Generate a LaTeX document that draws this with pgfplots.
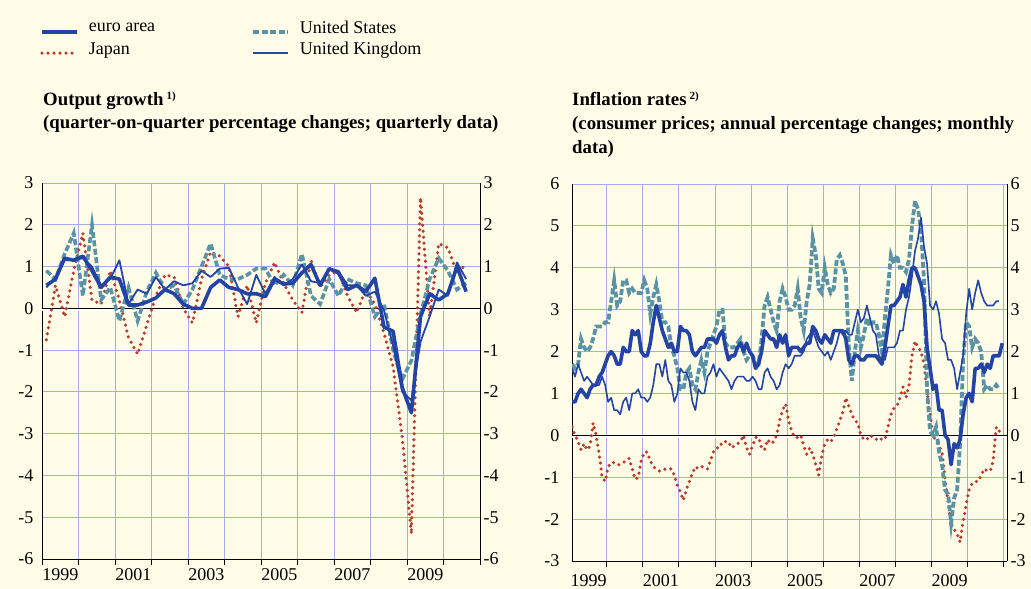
\documentclass[border=0pt]{standalone}
\usepackage{fontspec}
\setmainfont{Liberation Serif}
\usepackage{pgfplots}
\usepackage{pgfplotstable}
\pgfplotsset{compat=1.18}

\definecolor{bgc}{RGB}{255,253,232}
\definecolor{gridc}{RGB}{165,172,232}
\definecolor{ecbblue}{RGB}{36,68,165}
\definecolor{usteal}{RGB}{90,146,166}
\definecolor{jpred}{RGB}{188,58,45}

% quarterly output growth, 1999Q1 - 2010Q3
\pgfplotstableread{
ea us jp uk
0.55 0.9 -0.75 0.5
0.7 0.7 0.55 0.75
1.2 1.3 -0.2 1.15
1.15 1.8 0.9 1.15
1.25 0.3 1.8 1.2
0.9 2.0 0.2 1.0
0.5 0.2 0.1 0.55
0.75 0.5 0.9 0.7
0.7 -0.3 0.2 1.15
0.08 0.5 -0.7 0.1
0.08 -0.3 -1.1 0.45
0.15 0.4 -0.4 0.35
0.25 0.85 0.3 0.75
0.45 0.45 0.8 0.45
0.35 0.55 0.75 0.65
0.1 0.1 0.0 0.55
0.0 0.45 -0.35 0.6
0.0 1.0 0.7 0.9
0.5 1.55 1.35 0.75
0.68 0.8 1.25 0.95
0.5 0.7 1.0 0.97
0.45 0.7 -0.2 0.5
0.35 0.8 0.55 0.1
0.35 0.95 -0.35 0.8
0.28 0.95 0.6 0.35
0.7 0.55 1.1 0.75
0.58 0.8 0.6 0.55
0.6 0.55 0.2 0.7
0.85 1.3 -0.1 1.05
1.05 0.3 1.15 0.65
0.55 0.1 0.5 0.6
0.95 0.7 0.8 0.95
0.85 0.3 0.9 0.9
0.45 0.7 0.3 0.55
0.55 0.6 -0.1 0.55
0.4 0.55 0.45 0.3
0.72 -0.2 0.1 0.4
-0.45 0.1 -0.6 -0.05
-0.55 -1.0 -1.4 -0.9
-1.9 -1.7 -3.1 -2.0
-2.5 -1.25 -5.4 -2.2
-0.2 -0.15 2.65 -0.8
0.35 0.7 -0.2 -0.2
0.2 1.2 1.55 0.45
0.35 0.9 1.45 0.3
1.0 0.45 0.85 1.1
0.4 0.6 1.05 0.7
}\quarterly

% monthly inflation, from January 1999
\pgfplotstableread[row sep=\\,col sep=comma]{
y\\
0.8\\0.8\\1.0\\1.1\\1.0\\0.9\\1.1\\1.2\\1.2\\1.4\\1.5\\1.7\\
1.9\\2.0\\1.9\\1.7\\1.7\\2.1\\2.0\\2.0\\2.5\\2.4\\2.5\\2.0\\
1.9\\1.9\\2.2\\2.7\\3.1\\2.8\\2.5\\2.3\\2.1\\2.2\\2.0\\2.0\\
2.6\\2.5\\2.5\\2.4\\2.0\\1.9\\2.0\\2.1\\2.1\\2.3\\2.3\\2.3\\
2.2\\2.4\\2.5\\2.1\\1.8\\1.9\\1.9\\2.1\\2.2\\2.0\\2.2\\2.0\\
1.9\\1.6\\1.7\\2.0\\2.5\\2.4\\2.3\\2.3\\2.1\\2.4\\2.2\\2.4\\
1.9\\2.1\\2.1\\2.1\\2.0\\2.1\\2.2\\2.2\\2.6\\2.5\\2.3\\2.2\\
2.4\\2.3\\2.2\\2.5\\2.5\\2.5\\2.5\\2.3\\1.8\\1.7\\1.9\\1.9\\
1.8\\1.8\\1.9\\1.9\\1.9\\1.9\\1.8\\1.7\\2.1\\2.6\\3.1\\3.1\\
3.2\\3.3\\3.6\\3.3\\3.7\\4.0\\4.0\\3.8\\3.6\\3.2\\2.1\\1.6\\
1.1\\1.2\\0.6\\0.6\\0.0\\-0.1\\-0.7\\-0.2\\-0.3\\-0.1\\0.5\\0.9\\
1.0\\0.8\\1.6\\1.6\\1.7\\1.5\\1.7\\1.6\\1.9\\1.9\\1.9\\2.2\\
}\eainf

\pgfplotstableread[row sep=\\,col sep=comma]{
y\\
1.7\\1.6\\1.7\\2.3\\2.1\\2.0\\2.1\\2.3\\2.6\\2.6\\2.6\\2.7\\
2.7\\3.2\\3.7\\3.1\\3.2\\3.7\\3.7\\3.4\\3.5\\3.4\\3.4\\3.4\\
3.7\\3.5\\2.9\\3.3\\3.6\\3.2\\2.7\\2.7\\2.6\\2.1\\1.9\\1.6\\
1.1\\1.1\\1.5\\1.6\\1.2\\1.1\\1.5\\1.8\\1.5\\2.0\\2.2\\2.4\\
2.6\\3.0\\3.0\\2.2\\2.1\\2.1\\2.1\\2.2\\2.3\\2.0\\1.8\\1.9\\
1.9\\1.7\\1.7\\2.3\\3.1\\3.3\\3.0\\2.7\\2.5\\3.2\\3.5\\3.3\\
3.0\\3.0\\3.1\\3.5\\2.8\\2.5\\3.2\\3.6\\4.7\\4.3\\3.5\\3.4\\
4.0\\3.6\\3.4\\3.5\\4.2\\4.3\\4.1\\3.8\\2.1\\1.3\\2.0\\2.5\\
2.1\\2.4\\2.8\\2.6\\2.7\\2.7\\2.4\\2.0\\2.8\\3.5\\4.3\\4.1\\
4.3\\4.0\\4.0\\3.9\\4.2\\5.0\\5.6\\5.4\\4.9\\3.7\\1.1\\0.1\\
0.0\\0.2\\-0.4\\-0.7\\-1.3\\-1.4\\-2.1\\-1.5\\-1.3\\-0.2\\1.8\\2.7\\
2.6\\2.1\\2.3\\2.2\\2.0\\1.1\\1.2\\1.1\\1.1\\1.2\\1.1\\
}\usinf

\pgfplotstableread[row sep=\\,col sep=comma]{
y\\
0.2\\0.0\\-0.15\\-0.35\\-0.2\\-0.35\\-0.25\\0.3\\0.0\\-0.45\\-1.0\\-1.1\\
-0.75\\-0.65\\-0.65\\-0.7\\-0.7\\-0.65\\-0.6\\-0.55\\-0.8\\-1.05\\-1.0\\-0.6\\
-0.4\\-0.4\\-0.6\\-0.75\\-0.8\\-0.85\\-0.85\\-0.8\\-0.8\\-0.8\\-0.95\\-1.2\\
-1.35\\-1.55\\-1.3\\-1.1\\-0.9\\-0.75\\-0.8\\-0.75\\-0.75\\-0.8\\-0.6\\-0.4\\
-0.3\\-0.3\\-0.15\\-0.15\\-0.15\\-0.3\\-0.25\\-0.2\\-0.15\\0.0\\-0.3\\-0.45\\
-0.25\\-0.05\\-0.05\\-0.3\\-0.35\\-0.1\\-0.2\\-0.15\\0.0\\0.35\\0.6\\0.75\\
0.35\\0.1\\-0.05\\-0.05\\0.0\\-0.25\\-0.45\\-0.3\\-0.45\\-0.7\\-0.95\\-0.5\\
-0.2\\-0.1\\-0.15\\-0.05\\0.15\\0.35\\0.55\\0.9\\0.7\\0.5\\0.35\\0.3\\
0.0\\-0.1\\-0.1\\0.0\\-0.05\\-0.1\\-0.05\\-0.1\\-0.1\\0.2\\0.5\\0.65\\
0.7\\0.9\\1.15\\0.9\\1.2\\1.9\\2.25\\2.1\\2.0\\1.7\\1.05\\0.5\\
0.0\\-0.15\\-0.25\\-0.4\\-1.05\\-1.6\\-2.1\\-2.25\\-2.35\\-2.55\\-2.05\\-1.65\\
-1.3\\-1.15\\-1.1\\-1.1\\-0.95\\-0.8\\-0.85\\-0.85\\-0.6\\0.2\\0.1\\
}\jpinf

\pgfplotstableread[row sep=\\,col sep=comma]{
y\\
1.6\\1.4\\1.7\\1.5\\1.3\\1.4\\1.3\\1.2\\1.2\\1.2\\1.4\\1.2\\
0.8\\0.9\\0.6\\0.6\\0.5\\0.8\\0.9\\0.6\\1.0\\1.0\\1.1\\0.9\\
0.9\\0.8\\0.9\\1.2\\1.7\\1.7\\1.4\\1.8\\1.3\\1.2\\0.8\\1.0\\
1.6\\1.5\\1.5\\1.3\\0.8\\0.6\\1.1\\1.0\\1.0\\1.4\\1.5\\1.7\\
1.4\\1.6\\1.5\\1.4\\1.3\\1.1\\1.3\\1.4\\1.4\\1.4\\1.3\\1.3\\
1.4\\1.3\\1.1\\1.1\\1.5\\1.6\\1.4\\1.3\\1.1\\1.2\\1.5\\1.7\\
1.6\\1.7\\1.9\\1.9\\1.9\\2.0\\2.3\\2.4\\2.5\\2.3\\2.1\\2.0\\
1.9\\2.0\\1.8\\2.0\\2.2\\2.5\\2.4\\2.5\\2.4\\2.4\\2.7\\3.0\\
2.7\\2.8\\3.1\\2.8\\2.5\\2.4\\1.9\\1.8\\1.8\\2.1\\2.1\\2.1\\
2.2\\2.5\\2.5\\3.0\\3.3\\3.8\\4.4\\4.7\\5.2\\4.5\\4.1\\3.1\\
3.0\\3.2\\2.9\\2.3\\2.2\\1.8\\1.8\\1.6\\1.1\\1.5\\1.9\\2.9\\
3.5\\3.0\\3.4\\3.7\\3.4\\3.2\\3.1\\3.1\\3.1\\3.2\\3.2\\
}\ukinf

\pgfplotsset{
  euro/.style={ecbblue, line width=3.6pt, line join=round},
  ukl/.style={ecbblue, line width=1.8pt, line join=round},
  usl/.style={usteal, line width=3.6pt, dash pattern=on 6pt off 2.5pt},
  jpl/.style={jpred, line width=3.5pt, line cap=round, dash pattern=on 0pt off 6pt},
  ecb/.style={
    scale only axis, anchor=south west, no markers,
    axis x line*=bottom, axis y line*=left,
    axis line style={black, line width=0.9pt},
    ymajorgrids=true, xminorgrids=true, xmajorgrids=false,
    major grid style={gridc, line width=0.9pt},
    minor grid style={gridc, line width=0.9pt},
    xtick={1999.5,2001.5,2003.5,2005.5,2007.5,2009.5},
    xticklabels={1999,2001,2003,2005,2007,2009},
    minor xtick={1999,2000,...,2011},
    tick align=outside, major tick length=0pt, minor tick length=6pt,
    tick style={black, line width=0.9pt},
    tick label style={font=\fontsize{18}{18}\selectfont},
    xticklabel style={yshift=-6pt},
    yticklabel style={xshift=-5pt},
  },
  ecbright/.style={
    scale only axis, anchor=south west,
    axis x line=none, axis y line*=right,
    axis line style={black, line width=0.9pt},
    major tick length=0pt,
    tick label style={font=\fontsize{18}{18}\selectfont},
  },
}

\begin{document}
\begin{tikzpicture}
\useasboundingbox (0,0) rectangle (1031pt,589pt);
\fill[bgc] (0,0) rectangle (1031pt,589pt);

% titles
\node[anchor=base west, inner sep=0pt, font=\fontsize{18.8}{22}\selectfont\bfseries] at (43pt,483pt) {Output growth\,\raisebox{6pt}{\fontsize{11}{11}\selectfont 1)}};
\node[anchor=base west, inner sep=0pt, font=\fontsize{18.8}{22}\selectfont\bfseries] at (43pt,460pt) {(quarter-on-quarter percentage changes; quarterly data)};
\node[anchor=base west, inner sep=0pt, font=\fontsize{18.8}{22}\selectfont\bfseries] at (572pt,483pt) {Inflation rates\,\raisebox{6pt}{\fontsize{11}{11}\selectfont 2)}};
\node[anchor=base west, inner sep=0pt, font=\fontsize{18.8}{22}\selectfont\bfseries] at (572pt,459pt) {(consumer prices; annual percentage changes; monthly};
\node[anchor=base west, inner sep=0pt, font=\fontsize{18.8}{22}\selectfont\bfseries] at (572pt,435pt) {data)};

% left: output growth
\begin{axis}[ecb, at={(42pt,30pt)}, width=438pt, height=376pt,
  xmin=1999, xmax=2011, ymin=-6, ymax=3,
  ytick={-6,-5,...,3}, yticklabels={-6,-5,-4,-3,-2,-1,0,1,2,3},
  legend columns=2, legend cell align=left,
  legend image code/.code={\draw[#1] (0pt,-4pt) -- (35pt,-4pt);},
  legend style={at={(axis description cs:0,1)}, anchor=north west,
    xshift=-2pt, yshift=163pt, draw=none, fill=none, inner sep=0pt,
    font=\fontsize{18}{18}\selectfont, nodes={inner sep=1pt},
    /tikz/every odd column/.append style={column sep=9pt},
    /tikz/every even column/.append style={column sep=95pt},
    row sep=5pt},
]
\addlegendimage{euro}\addlegendentry{euro area}
\addlegendimage{usl}\addlegendentry{United States}
\addlegendimage{jpl}\addlegendentry{Japan}
\addlegendimage{ukl}\addlegendentry{United Kingdom}
\addplot[white, line width=2.5pt, yshift=-1.8pt, forget plot] coordinates {(1999,0) (2011,0)};
\addplot[black, line width=1pt, forget plot] coordinates {(1999,0) (2011,0)};
\addplot[jpl, forget plot] table[x expr=1999.12+0.25*\coordindex, y=jp] {\quarterly};
\addplot[usl, forget plot] table[x expr=1999.12+0.25*\coordindex, y=us] {\quarterly};
\addplot[ukl, forget plot] table[x expr=1999.12+0.25*\coordindex, y=uk] {\quarterly};
\addplot[euro, forget plot] table[x expr=1999.12+0.25*\coordindex, y=ea] {\quarterly};
\end{axis}
\begin{axis}[ecbright, at={(42pt,30pt)}, width=438pt, height=376pt,
  xmin=1999, xmax=2011, ymin=-6, ymax=3,
  ytick={-6,-5,...,3}, yticklabels={-6,-5,-4,-3,-2,-1,0,1,2,3}]
\end{axis}

% right: inflation
\begin{axis}[ecb, at={(572pt,28pt)}, width=435pt, height=377pt,
  xmin=1999.04, xmax=2011.09, ymin=-3, ymax=6,
  ytick={-3,-2,...,6}, yticklabels={-3,-2,-1,0,1,2,3,4,5,6},
  xticklabel style={yshift=-4pt}, yticklabel style={xshift=-4pt},
]
\addplot[white, line width=2.5pt, yshift=-1.8pt] coordinates {(1999.04,0) (2011.09,0)};
\addplot[black, line width=1pt] coordinates {(1999.04,0) (2011.09,0)};
\addplot[jpl] table[x expr=1999+(\coordindex+0.5)/12, y=y] {\jpinf};
\addplot[usl, line width=3.8pt] table[x expr=1999+(\coordindex+0.5)/12, y=y] {\usinf};
\addplot[ukl, line width=1.6pt] table[x expr=1999+(\coordindex+0.5)/12, y=y] {\ukinf};
\addplot[euro] table[x expr=1999+(\coordindex+0.5)/12, y=y] {\eainf};
\end{axis}
\begin{axis}[ecbright, at={(572pt,28pt)}, width=435pt, height=377pt,
  xmin=1999.04, xmax=2011.09, ymin=-3, ymax=6,
  ytick={-3,-2,...,6}, yticklabels={-3,-2,-1,0,1,2,3,4,5,6}]
\end{axis}
\end{tikzpicture}
\end{document}
